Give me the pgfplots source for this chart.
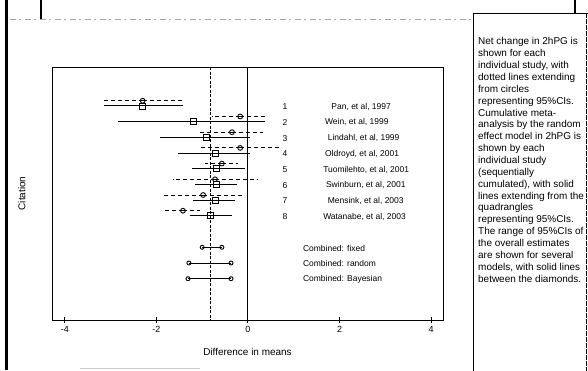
\documentclass[border=0pt]{standalone}
\usepackage{pgfplots}
\pgfplotsset{compat=1.18}
\usepackage{pgfplotstable}
\usepackage{fontspec}
\setmainfont{Liberation Sans}

% individual studies (dotted lines, circles)
\pgfplotstableread{
y     m      lo     hi
0.67  -2.30  -3.15  -1.42
1.67  -0.17  -0.79  0.42
2.67  -0.35  -1.05  0.33
3.67  -0.17  -1.05  0.70
4.67  -0.57  -0.94  -0.22
5.67  -0.72  -1.64  0.20
6.67  -0.98  -1.86  -0.13
7.67  -1.42  -1.86  -1.05
}\indiv
% cumulative random-effect estimates (solid lines, squares)
\pgfplotstableread{
y  m      lo     hi
1  -2.30  -3.15  -1.42
2  -1.20  -2.84  0.37
3  -0.90  -1.92  0.04
4  -0.72  -1.53  0.04
5  -0.68  -1.22  -0.07
6  -0.68  -1.16  -0.24
7  -0.72  -1.20  -0.28
8  -0.83  -1.27  -0.35
}\cumul

\begin{document}
\begin{tikzpicture}
\begin{scope}[x=1bp,y=1bp]
\useasboundingbox (0,0) rectangle (588,-370);
% page decorations
\fill[black] (4.5,0) rectangle (8,-370);
\draw[line width=1.6bp] (41,0) -- (41,-19);
\draw[gray!70, line width=1bp, dash pattern=on 6bp off 3bp on 2bp off 4bp] (10,-19) -- (472,-19);
\draw[line width=1.2bp] (575,0) -- (575,-13);
\draw[line width=1bp] (473,-372) -- (473,-13) -- (590,-13);
\draw[line width=0.8bp, dash pattern=on 5bp off 1bp] (586.5,-13) -- (586.5,-372);
\draw[gray!40, line width=1bp] (80,-368) -- (200,-368);
\node[anchor=north west, inner sep=0pt, align=left,
      font=\fontsize{10}{11.9}\selectfont] at (478,-37.5)
 {Net change in 2hPG is\\
  shown for each\\
  individual study, with\\
  dotted lines extending\\
  from circles\\
  representing 95\%CIs.\\
  Cumulative meta-\\
  analysis by the random\\
  effect model in 2hPG is\\
  shown by each\\
  individual study\\
  (sequentially\\
  cumulated), with solid\\
  lines extending from the\\
  quadrangles\\
  representing 95\%CIs.\\
  The range of 95\%CIs of\\
  the overall estimates\\
  are shown for several\\
  models, with solid lines\\
  between the diamonds.};
\end{scope}

\begin{axis}[
  at={(52bp,-320bp)}, anchor=south west,
  width=391bp, height=253bp, scale only axis,
  xmin=-4.28, xmax=4.26,
  ymin=-1.48, ymax=14.63, y dir=reverse,
  xtick={-4,-2,0,2,4}, ytick=\empty, xtick pos=bottom,
  tick align=center, major tick length=6bp,
  axis line style={line width=1bp},
  tick style={line width=1bp, black},
  /pgf/number format/assume math mode=true,
  ticklabel style={font=\fontsize{9}{10}\selectfont},
  xlabel={Difference in means}, ylabel={Citation},
  label style={font=\fontsize{8.5}{10}\selectfont},
  every axis x label/.style={at={(axis description cs:0.5,-0.126)}, anchor=center},
  every axis y label/.style={at={(axis description cs:-0.077,0.5)}, rotate=90, anchor=center},
  clip=false,
]
% reference lines
\addplot[black, line width=0.9bp, dash pattern=on 3bp off 1.5bp] coordinates {(-0.83,-1.48) (-0.83,14.63)};
\addplot[black, line width=1bp] coordinates {(0,-1.48) (0,14.63)};
% individual studies
\addplot[only marks, mark=o, mark size=2.4bp, mark options={solid, fill=white, line width=0.9bp},
  error bars/.cd, x dir=both, x explicit, error mark=none,
  error bar style={line width=0.8bp, dash pattern=on 4bp off 3bp}]
  table[x=m, y=y, x error plus expr=\thisrow{hi}-\thisrow{m}, x error minus expr=\thisrow{m}-\thisrow{lo}] {\indiv};
% cumulative
\addplot[only marks, mark=square, mark size=3bp, mark options={solid, fill=white, line width=0.9bp},
  error bars/.cd, x dir=both, x explicit, error mark=none,
  error bar style={line width=1bp, solid}]
  table[x=m, y=y, x error plus expr=\thisrow{hi}-\thisrow{m}, x error minus expr=\thisrow{m}-\thisrow{lo}] {\cumul};
% combined estimates
\addplot[black, line width=0.6bp, mark=o, mark size=2bp, mark options={solid, fill=white, line width=0.9bp}] coordinates {(-1.00,10) (-0.57,10)};
\addplot[black, line width=1bp, mark=o, mark size=2bp, mark options={solid, fill=white, line width=0.9bp}] coordinates {(-1.29,11) (-0.37,11)};
\addplot[black, line width=1bp, mark=o, mark size=2bp, mark options={solid, fill=white, line width=0.9bp}] coordinates {(-1.31,12) (-0.37,12)};
% labels
\begin{scope}[every node/.style={font=\fontsize{8.5}{10}\selectfont, inner sep=0pt}]
\node[anchor=center] at (axis cs:0.81,1.05) {1};
\node[anchor=center] at (axis cs:0.81,2.05) {2};
\node[anchor=center] at (axis cs:0.81,3.05) {3};
\node[anchor=center] at (axis cs:0.81,4.05) {4};
\node[anchor=center] at (axis cs:0.81,5.05) {5};
\node[anchor=center] at (axis cs:0.81,6.05) {6};
\node[anchor=center] at (axis cs:0.81,7.05) {7};
\node[anchor=center] at (axis cs:0.81,8.05) {8};
\node[anchor=west] at (axis cs:1.82,1.05) {Pan, et al, 1997};
\node[anchor=west] at (axis cs:1.68,2.05) {Wein, et al, 1999};
\node[anchor=west] at (axis cs:1.74,3.05) {Lindahl, et al, 1999};
\node[anchor=west] at (axis cs:1.68,4.05) {Oldroyd, et al, 2001};
\node[anchor=west] at (axis cs:1.64,5.05) {Tuomilehto, et al, 2001};
\node[anchor=west] at (axis cs:1.70,6.05) {Swinburn, et al, 2001};
\node[anchor=west] at (axis cs:1.74,7.05) {Mensink, et al, 2003};
\node[anchor=west] at (axis cs:1.64,8.05) {Watanabe, et al, 2003};
\node[anchor=west] at (axis cs:1.2,10.05) {Combined: fixed};
\node[anchor=west] at (axis cs:1.2,11.05) {Combined: random};
\node[anchor=west] at (axis cs:1.2,12.05) {Combined: Bayesian};
\end{scope}
\end{axis}
\end{tikzpicture}
\end{document}
